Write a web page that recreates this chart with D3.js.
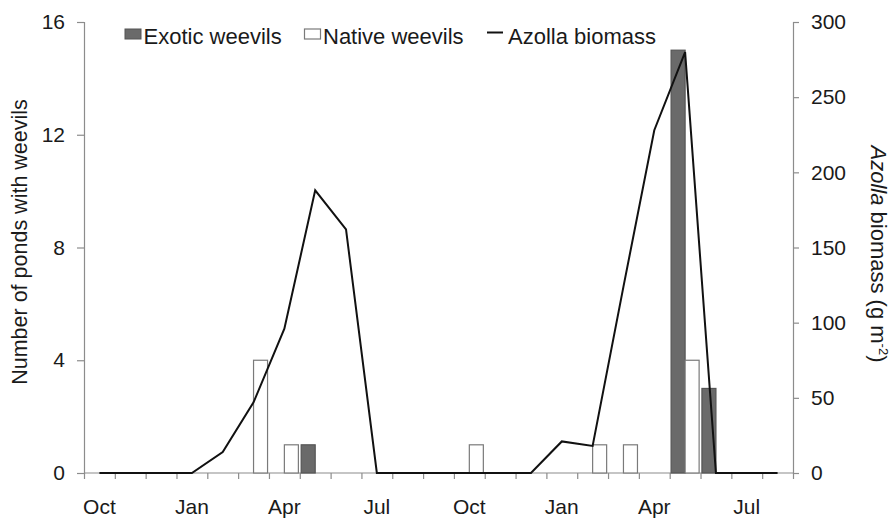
<!DOCTYPE html>
<html>
<head>
<meta charset="utf-8">
<script src="https://cdnjs.cloudflare.com/ajax/libs/d3/7.8.5/d3.min.js"></script>
<style>
  html, body { margin: 0; padding: 0; background: #fff; }
  svg { display: block; font-family: "Liberation Sans", Arial, sans-serif; }
</style>
</head>
<body>
<svg id="chart" width="890" height="518"></svg>
<script>
// ---- data ----
const months = ["Oct","Nov","Dec","Jan","Feb","Mar","Apr","May","Jun","Jul","Aug","Sep",
                "Oct","Nov","Dec","Jan","Feb","Mar","Apr","May","Jun","Jul","Aug"];
const exoticWeevils = [0,0,0,0,0,0,0,1,0,0,0,0, 0,0,0,0,0,0,0,15,3,0,0];
const nativeWeevils = [0,0,0,0,0,4,1,0,0,0,0,0, 1,0,0,0,1,1,0,4,0,0,0];
const azollaBiomass = [0,0,0,0,14,47,96,188,162,0,0,0, 0,0,0,21,18,124,228,280,0,0,0];
const tickLabelIdx = [0,3,6,9,12,15,18,21];
const leftTicks = [0,4,8,12,16];
const rightTicks = [0,50,100,150,200,250,300];
const seriesKeys = ["exotic","native"];
const legendLabels = ["Exotic weevils","Native weevils","Azolla biomass"];

// ---- layout ----
const svg = d3.select("#chart");
const x0 = 84, x1 = 793, yBottom = 473, yTop = 22;
const idx = months.map((d,i)=>i);

const x = d3.scaleBand().domain(idx).range([x0, x1]).padding(0);
const xs = d3.scaleBand().domain(seriesKeys).range([0, x.bandwidth()]).paddingInner(0).paddingOuter(0.1);
const yL = d3.scaleLinear().domain([0,16]).range([yBottom, yTop]);
const yR = d3.scaleLinear().domain([0,300]).range([yBottom, yTop]);

const axisColor = "#8c8c8c";
const textColor = "#1a1a1a";

// left axis
const gL = svg.append("g").attr("transform",`translate(${x0},0)`)
  .call(d3.axisLeft(yL).tickValues(leftTicks).tickSize(7).tickPadding(12).tickFormat(d3.format("d")));
// right axis
const gR = svg.append("g").attr("transform",`translate(${x1},0)`)
  .call(d3.axisRight(yR).tickValues(rightTicks).tickSize(6).tickPadding(12).tickFormat(d3.format("d")));
// bottom axis: ticks at band boundaries
const xb = d3.scaleLinear().domain([0, months.length]).range([x0, x1]);
const gB = svg.append("g").attr("transform",`translate(0,${yBottom})`)
  .call(d3.axisBottom(xb).tickValues(d3.range(0, months.length+1)).tickSize(6).tickFormat(""));

[gL,gR,gB].forEach(g=>{
  g.select(".domain").attr("stroke",axisColor).attr("stroke-width",1.2);
  g.selectAll(".tick line").attr("stroke",axisColor).attr("stroke-width",1.2);
  g.selectAll(".tick text").attr("fill",textColor).style("font-size","21px");
});
gB.select(".domain").attr("d",`M${x0},0H${x1}`);

// month labels
svg.append("g").selectAll("text").data(tickLabelIdx).join("text")
  .attr("x", d => x(d) + x.bandwidth()/2)
  .attr("y", 514)
  .attr("text-anchor","middle")
  .attr("fill",textColor)
  .style("font-size","21px")
  .text(d => months[d]);

// bars
const barData = [];
idx.forEach(i=>{
  if (exoticWeevils[i] > 0) barData.push({i, key:"exotic", v: exoticWeevils[i]});
  if (nativeWeevils[i] > 0) barData.push({i, key:"native", v: nativeWeevils[i]});
});
svg.append("g").selectAll("rect").data(barData).join("rect")
  .attr("x", d => x(d.i) + xs(d.key))
  .attr("y", d => yL(d.v))
  .attr("width", xs.bandwidth())
  .attr("height", d => yL(0) - yL(d.v))
  .attr("fill", d => d.key === "exotic" ? "#6a6a6a" : "#ffffff")
  .attr("stroke", d => d.key === "exotic" ? "#555" : "#7a7a7a")
  .attr("stroke-width", 1.2);

// line
const line = d3.line()
  .x((d,i) => x(i) + x.bandwidth()/2)
  .y(d => yR(d));
svg.append("path").datum(azollaBiomass)
  .attr("d", line)
  .attr("fill","none")
  .attr("stroke","#111")
  .attr("stroke-width",2)
  .attr("stroke-linejoin","miter");

// axis titles
svg.append("text")
  .attr("transform","translate(27,242) rotate(-90)")
  .attr("text-anchor","middle")
  .attr("fill",textColor)
  .style("font-size","21.5px")
  .text("Number of ponds with weevils");

const rt = svg.append("text")
  .attr("transform","translate(871,254) rotate(90)")
  .attr("text-anchor","middle")
  .attr("fill",textColor)
  .style("font-size","22px");
rt.append("tspan").style("font-style","italic").text("Azolla");
rt.append("tspan").text(" biomass (g m");
rt.append("tspan").attr("dy",-8).style("font-size","13px").text("-2");
rt.append("tspan").attr("dy",8).text(")");

// legend
const leg = svg.append("g");
leg.append("rect").attr("x",125).attr("y",29).attr("width",16).attr("height",10)
  .attr("fill","#6a6a6a").attr("stroke","#555").attr("stroke-width",1);
leg.append("text").attr("x",143.5).attr("y",43.5).attr("fill",textColor).style("font-size","22px").text(legendLabels[0]);
leg.append("rect").attr("x",304.5).attr("y",29).attr("width",16).attr("height",10)
  .attr("fill","#fff").attr("stroke","#7a7a7a").attr("stroke-width",1.2);
leg.append("text").attr("x",323).attr("y",43.5).attr("fill",textColor).style("font-size","22px").text(legendLabels[1]);
leg.append("line").attr("x1",487).attr("x2",503).attr("y1",32.5).attr("y2",32.5)
  .attr("stroke","#111").attr("stroke-width",2);
leg.append("text").attr("x",508).attr("y",43.5).attr("fill",textColor).style("font-size","22px").text(legendLabels[2]);
</script>
</body>
</html>
